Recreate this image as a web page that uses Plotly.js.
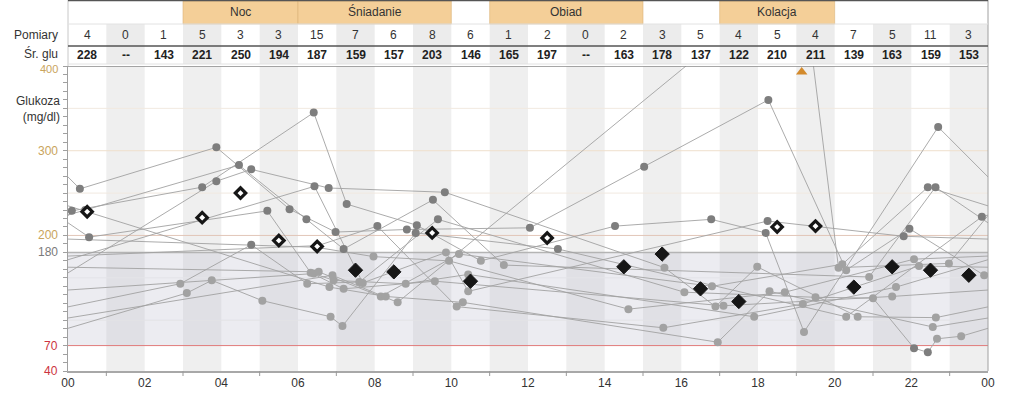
<!DOCTYPE html>
<html><head><meta charset="utf-8">
<script src="https://cdn.plot.ly/plotly-3.0.1.min.js"></script>
<style>html,body{margin:0;padding:0;background:#fff;} #chart{width:1023px;height:413px;}</style>
</head><body><div id="chart"></div>
<script>
// ---- table data ----
const pomiary=[4,0,1,5,3,3,15,7,6,8,6,1,2,0,2,3,5,4,5,4,7,5,11,3];
const srGlu=[228,null,143,221,250,194,187,159,157,203,146,165,197,null,163,178,137,122,210,211,139,163,159,153];
const meals=["Noc","Śniadanie","Obiad","Kolacja"];
const mealFrom=[3,6,11,17];
const mealTo=[6,10,15,20];
const xTickText=["00","02","04","06","08","10","12","14","16","18","20","22","00"];
const yLabelVals=[400,300,200,180,70,40];
const yLabelColors=["#c9a45c","#c9a45c","#c9a45c","#7a7a7a","#cc3340","#cc3340"];
const targetLow=70, targetHigh=180;
// ---- readings per day (hour of day, mg/dl) ----
const d1t=[0.10,3.50,6.41,7.27,9.10,10.77,14.27,16.78,18.20,19.20,22.70];
const d1v=[229,257,345,237,212,170,211,219,203,86,328];
const d2t=[0.31,3.87,5.78,6.98,8.84,12.05,15.03,18.27,20.30,21.95,23.90];
const d2v=[255,304,231,204,207,209,281,360,159,208,153];
const d3t=[3.87,4.78,6.80,9.83,15.56,16.89,17.98,20.60,22.64];
const d3v=[264,278,256,251,162,116,163,104,103];
const d4t=[2.93,4.78,6.24,7.60,9.65,16.08,19.50,21.00,22.07,22.43,22.67,23.30];
const d4v=[143,189,143,145,219,133,127,126,67,62,78,81];
const d5t=[3.10,3.75,5.07,6.85,7.16,9.07,12.78,20.30,23.84];
const d5v=[132,147,123,104,93,203,184,104,222];
const d6t=[0.45,4.46,6.22,7.19,9.52,11.37,20.90,22.63];
const d6v=[230,283,219,184,242,165,151,257];
const d7t=[0.55,5.20,6.33,7.19,9.57,17.10,21.50];
const d7v=[198,229,156,137,146,117,128];
const d8t=[6.41,6.93,8.81,10.44,17.90,21.60];
const d8v=[155,147,143,154,104,139];
const d9t=[6.43,7.69,9.86,10.44,18.25,21.80];
const d9v=[258,144,180,134,217,199];
const d10t=[6.48,7.97,9.94,14.62,18.70,22.07];
const d10v=[186,175,170,113,133,172];
const d11t=[6.52,8.07,10.14,15.53,19.17,22.20];
const d11v=[188,211,116,91,119,164];
const d12t=[6.54,8.16,10.20,16.80,20.20,22.43];
const d12v=[157,128,178,140,166,257];
const d13t=[6.82,8.29,10.30,16.95,18.30,22.56];
const d13v=[139,128,121,74,134,92];
const d14t=[6.90,8.60,19.14,20.10,22.98];
const d14v=[153,121,512,162,167];

const days=[[d1t,d1v],[d2t,d2v],[d3t,d3v],[d4t,d4v],[d5t,d5v],[d6t,d6v],[d7t,d7v],
  [d8t,d8v],[d9t,d9v],[d10t,d10v],[d11t,d11v],[d12t,d12v],[d13t,d13v],[d14t,d14v]];

const Y0=40, Y1=400, X1=24;
const FONT="Liberation Sans, Arial, sans-serif";
const traces=[];
const n=days.length;
days.forEach((d,i)=>{
  const p=days[(i-1+n)%n], q=days[(i+1)%n];
  const x=[p[0][p[0].length-1]-24, ...d[0], q[0][0]+24];
  const y=[p[1][p[1].length-1], ...d[1], q[1][0]];
  traces.push({x,y,mode:'lines',line:{color:'#a2a2a2',width:0.9},hoverinfo:'skip',showlegend:false});
});
const allT=[], allV=[];
days.forEach(d=>{allT.push(...d[0]); allV.push(...d[1]);});
traces.push({x:allT,y:allV,mode:'markers',showlegend:false,hoverinfo:'skip',
  marker:{size:8,color:allV.map(v=>(v>targetHigh||v<targetLow)?'#7e7e7e':'#a2a2a2')}});
// hourly means
const hx=[],hy=[],fx=[],fy=[];
srGlu.forEach((m,h)=>{ if(m!==null && pomiary[h]>1){ if(m>targetHigh){hx.push(h+0.5);hy.push(m);} else {fx.push(h+0.5);fy.push(m);} }});
traces.push({x:fx,y:fy,mode:'markers',showlegend:false,hoverinfo:'skip',
  marker:{symbol:'diamond',size:11,color:'#161616',line:{color:'#161616',width:1}}});
traces.push({x:hx,y:hy,mode:'markers',showlegend:false,hoverinfo:'skip',
  marker:{symbol:'diamond',size:8,color:'#ffffff',line:{color:'#161616',width:3.2}}});
// out of range readings
const ot=[],ov=[];
allV.forEach((v,i)=>{ if(v>Y1){ot.push(allT[i]); ov.push(Y1-7);} });
traces.push({x:ot,y:ov,mode:'markers',showlegend:false,hoverinfo:'skip',
  marker:{symbol:'triangle-up',size:10,color:'#d38a2c'}});

// geometry helpers (pixel row -> paper)
const PT=66, PH=305;
const py=p=>(PT+PH-p)/PH;
const shapes=[], ann=[];
// stripes
for(let h=1;h<24;h+=2){
  shapes.push({type:'rect',xref:'x',yref:'paper',x0:h,x1:h+1,y0:0,y1:1,fillcolor:'#efefef',line:{width:0},layer:'below'});
  shapes.push({type:'rect',xref:'x',yref:'paper',x0:h,x1:h+1,y0:py(64),y1:py(24),fillcolor:'#ececec',line:{width:0},layer:'below'});
  shapes.push({type:'line',xref:'x',yref:'paper',x0:h,x1:h,y0:0,y1:-5/PH,line:{color:'#9a9a9a',width:1}});
}
// target band
shapes.push({type:'rect',xref:'paper',yref:'y',x0:0,x1:1,y0:targetLow,y1:targetHigh,fillcolor:'rgba(185,185,205,0.27)',line:{width:0},layer:'below'});
// faint grid
[[100,'#e2e2e6'],[150,'#e4e4e8'],[250,'#f1e9e0'],[300,'#efdfcc'],[350,'#f1e9e0']].forEach(g=>{
  shapes.push({type:'line',xref:'paper',yref:'y',x0:0,x1:1,y0:g[0],y1:g[0],line:{color:g[1],width:1},layer:'below'});
});
shapes.push({type:'line',xref:'paper',yref:'y',x0:0,x1:1,y0:200,y1:200,line:{color:'#e2c6b8',width:1},layer:'below'});
shapes.push({type:'line',xref:'paper',yref:'y',x0:0,x1:1,y0:targetHigh,y1:targetHigh,line:{color:'#b4b4b4',width:1.5},layer:'below'});
shapes.push({type:'line',xref:'paper',yref:'y',x0:0,x1:1,y0:targetLow,y1:targetLow,line:{color:'#e07a7a',width:1},layer:'below'});
shapes.push({type:'line',xref:'paper',yref:'y',x0:0,x1:1,y0:Y1,y1:Y1,line:{color:'#8a8a8a',width:1.5}});
shapes.push({type:'line',xref:'paper',yref:'paper',x0:1,x1:1,y0:0,y1:py(0),line:{color:'#a0a0a0',width:1}});
shapes.push({type:'line',xref:'paper',yref:'paper',x0:0,x1:0,y0:1,y1:py(0),line:{color:'#c8c8c8',width:1}});
// header
const mid={yanchor:'middle',showarrow:false};
meals.forEach((m,i)=>{
  shapes.push({type:'rect',xref:'x',yref:'paper',x0:mealFrom[i],x1:mealTo[i],y0:py(24),y1:py(1),fillcolor:'#f4cf98',line:{color:'#dcb37a',width:0.6}});
  ann.push({...mid,xref:'x',yref:'paper',x:(mealFrom[i]+mealTo[i])/2,y:py(12),xanchor:'center',text:m,font:{family:FONT,size:12,color:'#333'}});
});
shapes.push({type:'line',xref:'paper',yref:'paper',x0:0,x1:1,y0:py(0.5),y1:py(0.5),line:{color:'#555',width:1.5}});
shapes.push({type:'line',xref:'paper',yref:'paper',x0:0,x1:1,y0:py(24),y1:py(24),line:{color:'#e2e2e2',width:1}});
shapes.push({type:'line',xref:'paper',yref:'paper',x0:0,x1:1,y0:py(46),y1:py(46),line:{color:'#555',width:1.5}});
shapes.push({type:'line',xref:'paper',yref:'paper',x0:0,x1:1,y0:py(64),y1:py(64),line:{color:'#e2e2e2',width:1}});
ann.push({...mid,xref:'paper',yref:'paper',x:-8/920,y:py(35),xanchor:'right',text:'Pomiary',font:{family:FONT,size:12,color:'#333'}});
ann.push({...mid,xref:'paper',yref:'paper',x:-8/920,y:py(53),xanchor:'right',text:'Śr. glu',font:{family:FONT,size:12,color:'#333'}});
pomiary.forEach((c,h)=>{
  ann.push({...mid,xref:'x',yref:'paper',x:h+0.5,y:py(35),xanchor:'center',text:String(c),font:{family:FONT,size:12,color:'#333'}});
  ann.push({...mid,xref:'x',yref:'paper',x:h+0.5,y:py(55),xanchor:'center',text:'<b>'+(srGlu[h]===null?'--':srGlu[h])+'</b>',font:{family:FONT,size:12,color:'#222'}});
});
yLabelVals.forEach((v,i)=>{
  ann.push({...mid,xref:'paper',yref:'y',x:-8/920,y:v,xanchor:'right',yshift:(v===Y1?-3:0),text:String(v),font:{family:FONT,size:(v===Y1?11:12),color:yLabelColors[i]}});
});
ann.push({...mid,xref:'paper',yref:'paper',x:-6/920,y:py(109),xanchor:'right',text:'Glukoza<br>(mg/dl)',align:'right',font:{family:FONT,size:12,color:'#333'}});

const layout={
  width:1023,height:413,margin:{l:68,r:35,t:PT,b:42},
  paper_bgcolor:'#fff',plot_bgcolor:'#fff',showlegend:false,
  font:{family:FONT,size:12,color:'#333'},
  xaxis:{range:[0,X1],tickvals:xTickText.map((_,i)=>i*2),ticktext:xTickText,ticks:'',showgrid:false,zeroline:false,
    showline:true,linecolor:'#a8a8a8',linewidth:1.5,tickfont:{family:FONT,size:12,color:'#333'},fixedrange:true},
  yaxis:{range:[Y0,Y1],tickmode:'linear',tick0:Y0,dtick:10,ticks:'outside',ticklen:4,tickcolor:'#a0a0a0',
    showticklabels:false,showgrid:false,zeroline:false,showline:true,linecolor:'#a0a0a0',linewidth:1,fixedrange:true},
  shapes:shapes,annotations:ann
};
Plotly.newPlot('chart',traces,layout,{displayModeBar:false,staticPlot:true});
</script></body></html>
